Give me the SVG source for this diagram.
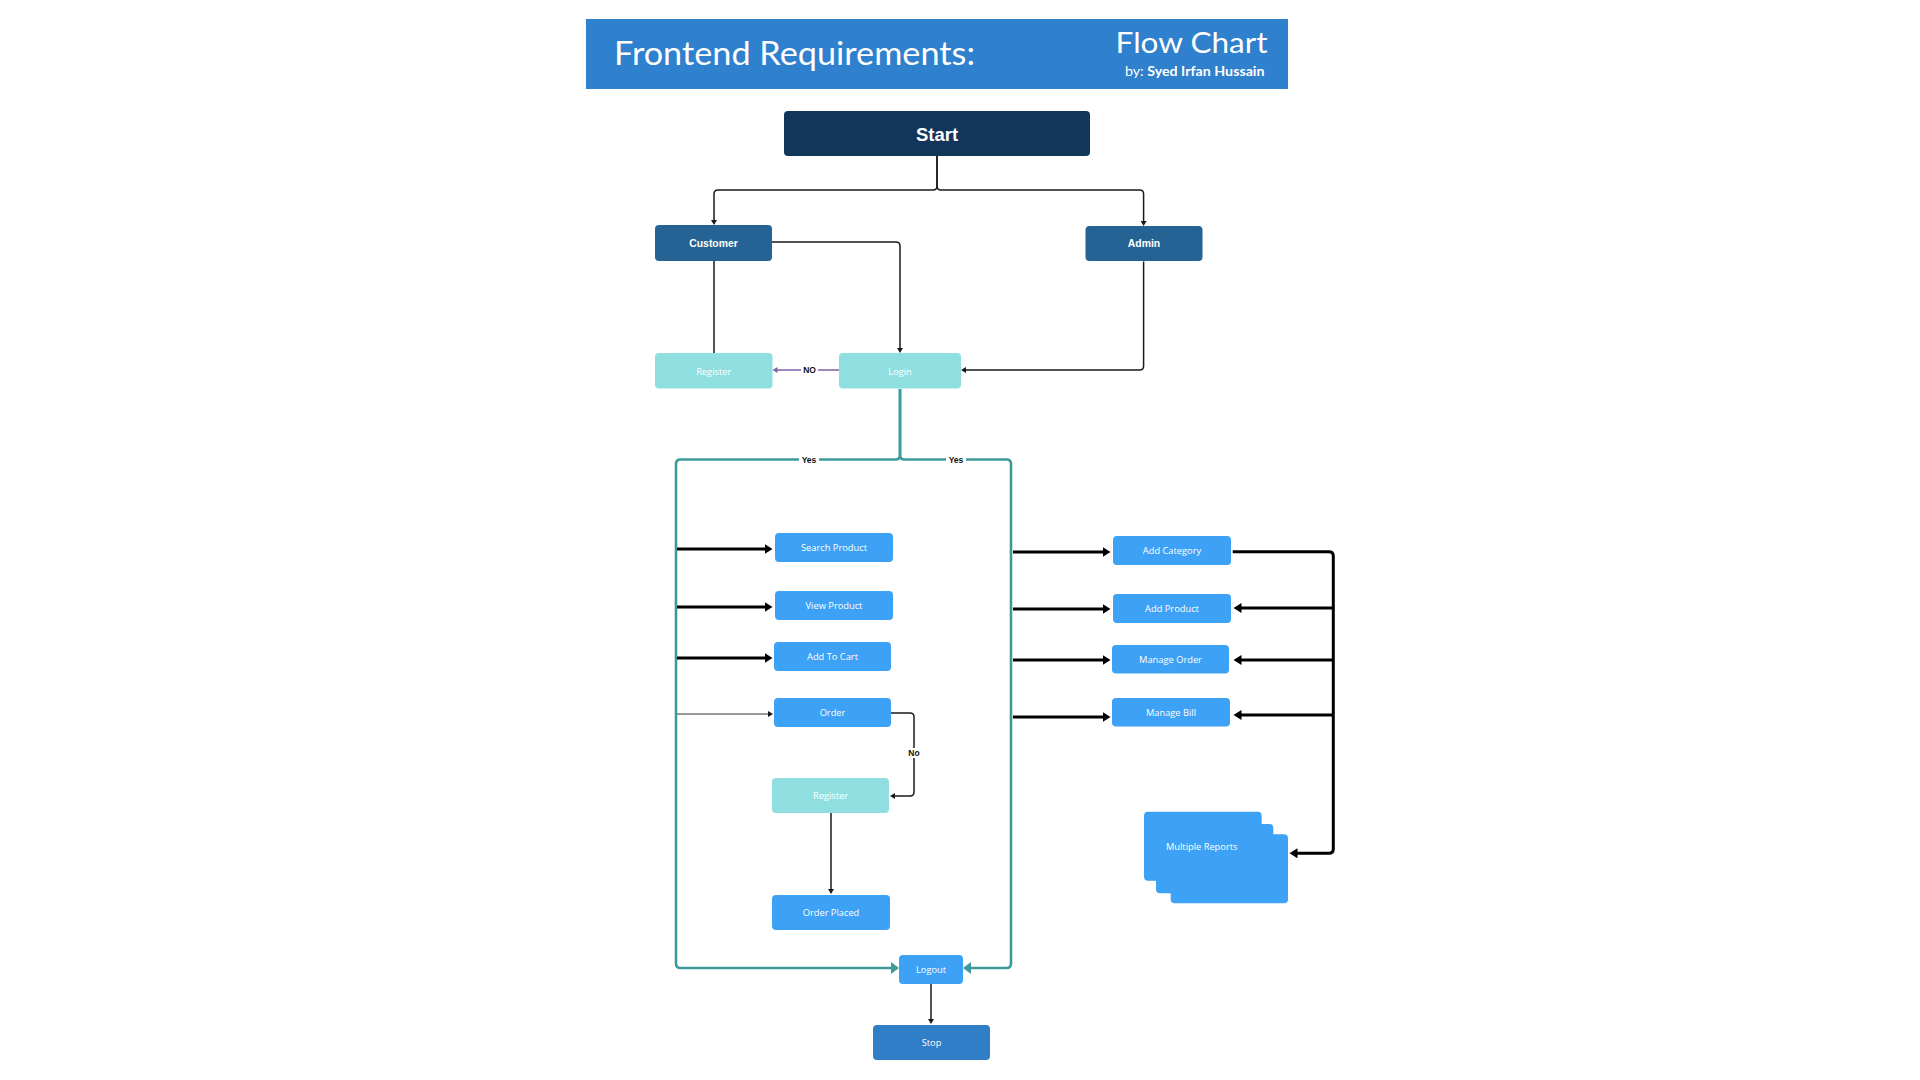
<svg xmlns="http://www.w3.org/2000/svg" width="1920" height="1080" viewBox="0 0 1920 1080">
<style>
.box{stroke:none}
.navy{fill:#12355A}
.mid{fill:#246393}
.cyan{fill:#8FDFE1}
.blue{fill:#3DA1F5}
.stop{fill:#2F7EC7}
.lbl{font-family:"Open Sans","Liberation Sans",sans-serif;font-size:9.3px;fill:#ffffff;text-anchor:middle;dominant-baseline:central}
.lblb{font-family:"Liberation Sans",Arial,sans-serif;font-size:10.4px;font-weight:bold;fill:#ffffff;text-anchor:middle;dominant-baseline:central}
.tag{font-family:"Liberation Sans",Arial,sans-serif;font-size:8.5px;font-weight:bold;fill:#111111;text-anchor:middle;dominant-baseline:central}
.thin{fill:none;stroke:#1a1a1a;stroke-width:1.5}
.thick{fill:none;stroke:#000000;stroke-width:3}
.teal{fill:none;stroke:#3D9A9B;stroke-width:2.6}
.purple{fill:none;stroke:#8060A8;stroke-width:1.5}
</style>
<defs>
<marker id="aThin" markerWidth="6" markerHeight="6" refX="0.5" refY="3" orient="auto" markerUnits="userSpaceOnUse"><path d="M0,0 L5,3 L0,6 z" fill="#1a1a1a"/></marker>
<marker id="aThick" markerWidth="9" markerHeight="11" refX="0.5" refY="5" orient="auto" markerUnits="userSpaceOnUse"><path d="M0,0 L8,5 L0,10 z" fill="#000000"/></marker>
<marker id="aTeal" markerWidth="9" markerHeight="12" refX="0.5" refY="6" orient="auto" markerUnits="userSpaceOnUse"><path d="M0,0 L8,6 L0,12 z" fill="#3D9A9B"/></marker>
<marker id="aPurple" markerWidth="6" markerHeight="6" refX="0.5" refY="3" orient="auto" markerUnits="userSpaceOnUse"><path d="M0,0 L5,3 L0,6 z" fill="#8060A8"/></marker>
</defs>
<rect width="1920" height="1080" fill="#ffffff"/>

<g id="header">
<rect x="586" y="19" width="702" height="70" fill="#2F80CD"/>
<text x="614" y="65" font-family="Lato,'Open Sans',sans-serif" font-size="33" fill="#ffffff" textLength="361" lengthAdjust="spacingAndGlyphs">Frontend Requirements:</text>
<text x="1115.6" y="53" font-family="Lato,'Open Sans',sans-serif" font-size="29" fill="#ffffff" textLength="152" lengthAdjust="spacingAndGlyphs">Flow Chart</text>
<text x="1125" y="76" font-family="Lato,'Open Sans',sans-serif" font-size="12.5" fill="#ffffff" textLength="139.5" lengthAdjust="spacingAndGlyphs"><tspan>by:  </tspan><tspan font-weight="bold">Syed Irfan Hussain</tspan></text>
</g>

<g id="connectors">
<path class="thin" d="M937,155 V186 Q937,190 933,190 H718 Q714,190 714,194 V220.5" marker-end="url(#aThin)"/>
<path class="thin" d="M937,155 V186 Q937,190 941,190 H1139.6 Q1143.6,190 1143.6,194 V221.5" marker-end="url(#aThin)"/>
<path class="thin" d="M772,242 H896 Q900,242 900,246 V348.5" marker-end="url(#aThin)"/>
<path class="thin" d="M714,261 V353"/>
<path class="thin" d="M1143.6,261.5 V366 Q1143.6,370 1139.6,370 H965.5" marker-end="url(#aThin)"/>
<path class="purple" d="M839,370 H777" marker-end="url(#aPurple)"/>
<rect x="801" y="365" width="17" height="10" fill="#ffffff"/>
<text class="tag" x="809.5" y="370">NO</text>

<path class="teal" d="M900,389 V455 Q900,459.5 895.5,459.5 H680.5 Q676,459.5 676,464 V963.5 Q676,968 680.5,968 H891.5" marker-end="url(#aTeal)"/>
<path class="teal" d="M900,389 V455 Q900,459.5 904.5,459.5 H1006.5 Q1011,459.5 1011,464 V963.5 Q1011,968 1006.5,968 H970.5" marker-end="url(#aTeal)"/>
<rect x="799" y="454" width="20" height="11" fill="#ffffff"/>
<text class="tag" x="809" y="460">Yes</text>
<rect x="946" y="454" width="20" height="11" fill="#ffffff"/>
<text class="tag" x="956" y="460">Yes</text>

<path class="thick" d="M677,549 H765" marker-end="url(#aThick)"/>
<path class="thick" d="M677,607 H765" marker-end="url(#aThick)"/>
<path class="thick" d="M677,658 H765" marker-end="url(#aThick)"/>
<path d="M677,714 H768.5" fill="none" stroke="#333333" stroke-width="1" marker-end="url(#aThin)"/>

<path class="thick" d="M1013,552 H1103" marker-end="url(#aThick)"/>
<path class="thick" d="M1013,609 H1103" marker-end="url(#aThick)"/>
<path class="thick" d="M1013,660 H1103" marker-end="url(#aThick)"/>
<path class="thick" d="M1013,717 H1103" marker-end="url(#aThick)"/>

<path class="thick" d="M1232.7,551.7 H1329 Q1333.3,551.7 1333.3,556 V849 Q1333.3,853.3 1329,853.3 H1297" marker-end="url(#aThick)"/>
<path class="thick" d="M1333.3,608 H1241" marker-end="url(#aThick)"/>
<path class="thick" d="M1333.3,660 H1241" marker-end="url(#aThick)"/>
<path class="thick" d="M1333.3,715 H1241" marker-end="url(#aThick)"/>

<path class="thin" d="M891,713 H910 Q914,713 914,717 V792 Q914,796 910,796 H894.5" marker-end="url(#aThin)"/>
<rect x="907" y="748" width="14" height="10" fill="#ffffff"/>
<text class="tag" x="914" y="753">No</text>
<path class="thin" d="M831,813 V889.5" marker-end="url(#aThin)"/>
<path class="thin" d="M931,984 V1019.5" marker-end="url(#aThin)"/>
</g>

<g id="start">
<rect class="box navy" x="784" y="111" width="306" height="45" rx="4"/>
<text x="937" y="134" font-family="'Liberation Sans',Arial,sans-serif" font-size="18.5" font-weight="bold" fill="#ffffff" text-anchor="middle" dominant-baseline="central">Start</text>
</g>
<g id="customer">
<rect class="box mid" x="655" y="225" width="117" height="36" rx="4"/>
<text class="lblb" x="713.5" y="243">Customer</text>
</g>
<g id="admin">
<rect class="box mid" x="1085.5" y="226" width="117" height="35" rx="4"/>
<text class="lblb" x="1144" y="243.5">Admin</text>
</g>
<g id="register">
<rect class="box cyan" x="655" y="353" width="117.5" height="35.5" rx="4"/>
<text class="lbl" x="713.7" y="371">Register</text>
</g>
<g id="login">
<rect class="box cyan" x="839" y="353" width="122" height="35.5" rx="4"/>
<text class="lbl" x="900" y="371">Login</text>
</g>
<g id="search-product">
<rect class="box blue" x="775" y="533" width="118" height="29" rx="4"/>
<text class="lbl" x="834" y="547.5">Search Product</text>
</g>
<g id="view-product">
<rect class="box blue" x="775" y="591" width="118" height="29" rx="4"/>
<text class="lbl" x="834" y="605.5">View Product</text>
</g>
<g id="add-to-cart">
<rect class="box blue" x="774" y="642" width="117" height="29" rx="4"/>
<text class="lbl" x="832.5" y="656.5">Add To Cart</text>
</g>
<g id="order">
<rect class="box blue" x="774" y="698" width="117" height="29" rx="4"/>
<text class="lbl" x="832.5" y="712.5">Order</text>
</g>
<g id="register-2">
<rect class="box cyan" x="772" y="778" width="117" height="35" rx="4"/>
<text class="lbl" x="830.5" y="795.5">Register</text>
</g>
<g id="order-placed">
<rect class="box blue" x="772" y="895" width="118" height="35" rx="4"/>
<text class="lbl" x="831" y="912.5">Order Placed</text>
</g>
<g id="logout">
<rect class="box blue" x="899" y="955" width="64" height="29" rx="4"/>
<text class="lbl" x="931" y="969.5">Logout</text>
</g>
<g id="stop">
<rect class="box stop" x="873" y="1025" width="117" height="35" rx="4"/>
<text class="lbl" x="931.5" y="1042.5">Stop</text>
</g>
<g id="add-category">
<rect class="box blue" x="1113" y="536" width="118" height="29" rx="4"/>
<text class="lbl" x="1172" y="550.5">Add Category</text>
</g>
<g id="add-product">
<rect class="box blue" x="1113" y="594" width="118" height="29" rx="4"/>
<text class="lbl" x="1172" y="608.5">Add Product</text>
</g>
<g id="manage-order">
<rect class="box blue" x="1112" y="645" width="117" height="28.5" rx="4"/>
<text class="lbl" x="1170.5" y="659">Manage Order</text>
</g>
<g id="manage-bill">
<rect class="box blue" x="1112" y="698" width="118" height="28.5" rx="4"/>
<text class="lbl" x="1171" y="712">Manage Bill</text>
</g>
<g id="multiple-reports">
<rect class="box blue" x="1170.7" y="834.3" width="117.3" height="69" rx="4"/>
<rect class="box blue" x="1156" y="824" width="117.3" height="69.3" rx="4"/>
<rect class="box blue" x="1144" y="811.7" width="117.7" height="69" rx="4"/>
<text class="lbl" x="1201.7" y="846">Multiple Reports</text>
</g>
</svg>
